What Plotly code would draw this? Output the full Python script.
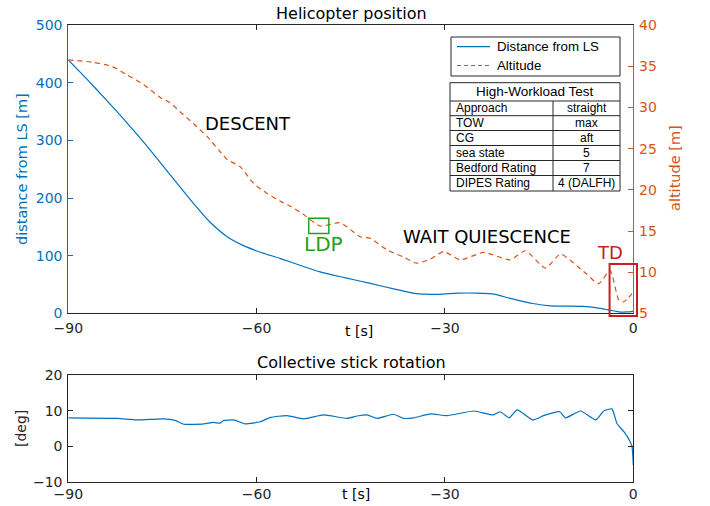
import plotly.graph_objects as go

W, H = 710, 506

# ---------------- data ----------------
t_dist = [-90, -87, -84, -81, -78, -75.3, -72.7, -70, -67.4, -64.7, -62, -59.4, -56.2, -53, -49.9,
          -46, -41.9, -38, -34.5, -31, -28, -25, -22, -20, -18.5, -16, -13.2, -10, -8,
          -6, -4.5, -3, -2, -1, 0]
dist = [440, 406, 371, 335, 297, 261, 226, 190, 158, 133, 117, 106, 95, 83, 72,
        62, 52, 42, 34, 33, 35, 35, 33, 27, 23, 17, 13, 12.5, 12,
        10, 7, 4, 2, 2.5, 3.5]

t_alt = [-90, -86, -83, -80.7, -78, -75.3, -73.8, -72.2, -70, -67.9, -66, -64.7, -62.6, -60.5,
         -58.4, -56.2, -54.6, -52.5, -49.9, -46.7, -43.5, -41.9, -39.2, -36.5, -34.5, -32.3, -30.2,
         -27.6, -23.8, -19.6, -17.2, -14.0, -11.6, -9.5, -7.5, -5.5, -3.7, -2.3, -1.5, -0.2]
alt = [35.8, 35.5, 35.0, 34.0, 32.8, 31.2, 30.6, 29.5, 28.0, 26.5, 24.8, 23.7, 22.8, 20.8,
       19.6, 18.6, 18.0, 17.0, 15.6, 16.0, 14.3, 14.1, 12.7, 11.8, 11.1, 11.6, 12.5,
       11.5, 12.4, 11.5, 12.6, 10.5, 12.2, 11.1, 9.8, 8.6, 10.2, 6.6, 6.4, 7.4]

t_col = [-90, -82.2, -79.1, -74.8, -73, -71.6, -68.4, -66.9, -65.8, -65.3, -63.7, -61.8, -59.4,
         -57.8, -55.2, -52.5, -49.3, -45.6, -44.0, -42.4, -40.8, -38.2, -36.6, -35.0, -32.3,
         -29.7, -25.4, -22.3, -21.2, -19.8, -18.5, -16.0, -14.3, -11.7, -10.8, -8.4, -6.0,
         -4.7, -3.4, -2.6, -1.5, -0.5, -0.2, 0]
col = [8.0, 7.85, 7.4, 7.7, 7.3, 6.2, 6.3, 6.7, 6.5, 7.2, 7.4, 6.3, 6.9,
       8.1, 8.6, 7.7, 8.8, 7.85, 8.5, 8.8, 7.85, 9.0, 7.85, 8.0, 9.1,
       8.6, 9.9, 8.8, 9.7, 8.0, 10.2, 7.4, 8.6, 9.7, 8.0, 9.9, 7.4,
       9.9, 10.5, 6.4, 4.1, 1.3, -0.1, -5.2]

x_ticks = [-90, -60, -30, 0]
legend_names = ["Distance from LS", "Altitude"]
table_title = "High-Workload Test"
table_params = ["Approach", "TOW", "CG", "sea state", "Bedford Rating", "DIPES Rating"]
table_values = ["straight", "max", "aft", "5", "7", "4 (DALFH)"]

# ---------------- style / geometry ----------------
BLUE = "#0072BD"
ORANGE = "#D95319"
AX = "#262626"
GREEN = "#22a022"
RED = "#c81e1e"
FONT = "DejaVu Sans"
TFONT = "Liberation Sans"

X0, X1 = 68.3, 633.3          # plot left/right (px)
TY0, TY1 = 25.3, 313.3        # top plot top/bottom (px)
BY0, BY1 = 375.0, 482.0       # bottom plot top/bottom (px)


def fx(p):
    return p / W


def fy(p):
    return 1 - p / H


def t2px(t):
    return X0 + (t + 90) / 90 * (X1 - X0)


def alt2py(a):
    return TY1 - (a - 5) / 35 * (TY1 - TY0)


fig = go.Figure()
fig.add_trace(go.Scatter(x=t_dist, y=dist, name=legend_names[0], mode="lines", showlegend=False,
                         line=dict(color=BLUE, width=1.2, shape="spline", smoothing=0.6),
                         xaxis="x", yaxis="y"))
fig.add_trace(go.Scatter(x=t_alt, y=alt, name=legend_names[1], mode="lines", showlegend=False,
                         line=dict(color=ORANGE, width=1.2, dash="5px,4px", shape="spline", smoothing=0.6),
                         xaxis="x", yaxis="y2"))
fig.add_trace(go.Scatter(x=t_col, y=col, showlegend=False, mode="lines",
                         line=dict(color=BLUE, width=1.2, shape="spline", smoothing=0.5),
                         xaxis="x2", yaxis="y3"))

common_x = dict(range=[-90, 0], tickvals=x_ticks, ticks="inside", ticklen=5, tickcolor=AX,
                showline=True, linecolor=AX, linewidth=1, mirror="ticks", showgrid=False,
                zeroline=False, automargin=False,
                tickfont=dict(family=FONT, size=14, color=AX))

fig.update_layout(
    width=W, height=H, margin=dict(l=0, r=0, t=0, b=0, pad=0, autoexpand=False),
    paper_bgcolor="white", plot_bgcolor="white",
    xaxis=dict(domain=[fx(X0), fx(X1)], anchor="y", ticklabelstandoff=2, **common_x),
    yaxis=dict(domain=[fy(TY1), fy(TY0)], range=[0, 500], dtick=100, ticks="inside", ticklen=5,
               tickcolor=BLUE, showline=True, linecolor=BLUE, linewidth=1, showgrid=False,
               zeroline=False, automargin=False, ticklabelstandoff=2,
               tickfont=dict(family=FONT, size=14, color=BLUE)),
    yaxis2=dict(overlaying="y", side="right", anchor="x", range=[5, 40], dtick=5, ticks="inside",
                ticklen=5, tickcolor=ORANGE, showline=True, linecolor=ORANGE, linewidth=1,
                showgrid=False, zeroline=False, automargin=False, ticklabelstandoff=2,
                tickfont=dict(family=FONT, size=14, color=ORANGE)),
    xaxis2=dict(domain=[fx(X0), fx(X1)], anchor="y3", ticklabelstandoff=-1, **common_x),
    yaxis3=dict(domain=[fy(BY1), fy(BY0)], anchor="x2", range=[-10, 20], dtick=10, ticks="inside",
                ticklen=5, tickcolor=AX, showline=True, linecolor=AX, linewidth=1, mirror="ticks",
                showgrid=False, zeroline=False, automargin=False, ticklabelstandoff=2,
                tickfont=dict(family=FONT, size=14, color=AX)),
    showlegend=False,
)

ann = []


def txt(x, y, s, size=14, color="black", family=FONT, angle=0, xanchor="center", xref="paper", yref="paper"):
    ann.append(dict(x=x, y=y, xref=xref, yref=yref, text=s, showarrow=False, textangle=angle,
                    xanchor=xanchor, yanchor="middle", font=dict(family=family, size=size, color=color)))


# titles / axis labels
txt(fx(351), fy(14), "Helicopter position", size=16)
txt(fx(359), fy(331), "t [s]", size=14)
txt(fx(22), fy(169), "distance from LS [m]", size=14.5, color=BLUE, angle=-90)
txt(fx(675), fy(168), "altitude [m]", size=14.5, color=ORANGE, angle=-90)
txt(fx(351), fy(362), "Collective stick rotation", size=16)
txt(fx(356), fy(494), "t [s]", size=14)
txt(fx(21), fy(429), "[deg]", size=14, color=AX, angle=-90)

# phase labels
txt(-61.3, 329, "DESCENT", size=18, xref="x", yref="y")
txt(-23.3, 134, "WAIT QUIESCENCE", size=18, xref="x", yref="y")
txt(-49.3, 13.4, "LDP", size=20, color=GREEN, xref="x", yref="y2")
txt(-3.76, 12.35, "TD", size=18, color=RED, xref="x", yref="y2")

shapes = []
# LDP box
shapes.append(dict(type="rect", xref="x", yref="y2", x0=-51.7, x1=-48.5, y0=14.7, y1=16.55,
                   line=dict(color=GREEN, width=1.5)))
# TD box (extends past the axes, so convert to paper)
shapes.append(dict(type="rect", xref="paper", yref="paper",
                   x0=fx(t2px(-3.78)), x1=fx(t2px(0.59)), y0=fy(alt2py(4.67)), y1=fy(alt2py(11.0)),
                   line=dict(color=RED, width=2)))

# legend (manual box)
LL, LR, LT, LB = 451, 620, 37, 76
shapes.append(dict(type="rect", xref="paper", yref="paper", x0=fx(LL), x1=fx(LR), y0=fy(LB), y1=fy(LT),
                   line=dict(color=AX, width=1), fillcolor="white", layer="above"))
leg_y = [46.7, 65.5]
leg_style = [dict(color=BLUE, width=1.2), dict(color=ORANGE, width=1.2, dash="4px,3px")]
for name, yy, st in zip(legend_names, leg_y, leg_style):
    shapes.append(dict(type="line", xref="paper", yref="paper", x0=fx(457), x1=fx(490), y0=fy(yy), y1=fy(yy),
                       line=st, layer="above"))
    txt(fx(495), fy(yy), name, size=13.3, family=TFONT, xanchor="left")

# table
TL, TR, TD_ = 450, 620, 553
rows_y = [82.7, 101, 115.7, 130.5, 145.5, 160.5, 175.5, 191]
shapes.append(dict(type="rect", xref="paper", yref="paper", x0=fx(TL), x1=fx(TR), y0=fy(rows_y[-1]),
                   y1=fy(rows_y[0]), line=dict(color=AX, width=1), fillcolor="white", layer="above"))
for yy in rows_y[1:-1]:
    shapes.append(dict(type="line", xref="paper", yref="paper", x0=fx(TL), x1=fx(TR), y0=fy(yy), y1=fy(yy),
                       line=dict(color=AX, width=1), layer="above"))
shapes.append(dict(type="line", xref="paper", yref="paper", x0=fx(TD_), x1=fx(TD_), y0=fy(rows_y[1]),
                   y1=fy(rows_y[-1]), line=dict(color=AX, width=1), layer="above"))

txt(fx((TL + TR) / 2), fy((rows_y[0] + rows_y[1]) / 2), table_title, size=13.5, family=TFONT)
for i, (p, v) in enumerate(zip(table_params, table_values)):
    yc = (rows_y[i + 1] + rows_y[i + 2]) / 2
    txt(fx(TL + 4), fy(yc), p, size=12, family=TFONT, xanchor="left")
    txt(fx((TD_ + TR) / 2), fy(yc), v, size=12, family=TFONT)

fig.update_layout(annotations=ann, shapes=shapes)
fig.write_html("out.html")
